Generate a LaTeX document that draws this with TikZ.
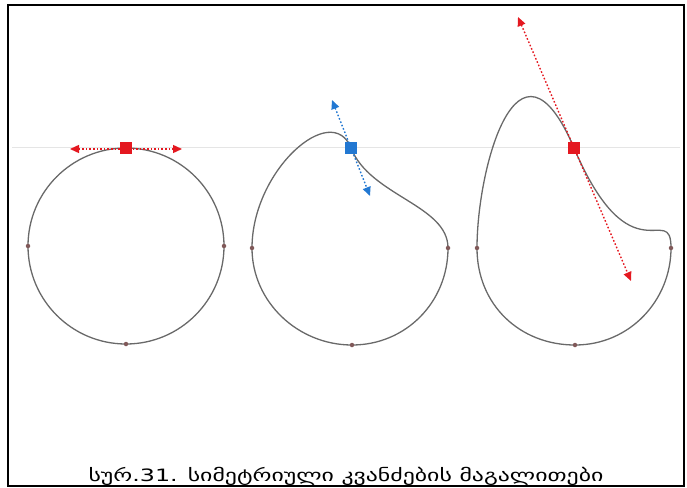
\documentclass[tikz,border=0pt]{standalone}
\usepackage{fontspec}
\newfontfamily\geofont{DejaVu Sans}
\usetikzlibrary{arrows.meta}
\definecolor{nodered}{RGB}{228,24,32}
\definecolor{nodeblue}{RGB}{34,120,210}
\definecolor{pathgray}{RGB}{105,105,105}

\begin{document}
\begin{tikzpicture}[x=1pt,y=-1pt,
	outline/.style={pathgray, line width=1.3pt},
	handle/.style={line width=1.4pt, dash pattern=on 1.6pt off 2pt,
		{Triangle[length=9pt,width=8pt]}-{Triangle[length=9pt,width=8pt]}},
	selnode/.style={rectangle, inner sep=0pt, minimum size=12pt},
	knot/.style={circle, fill=pathgray!85!red, inner sep=0pt, minimum size=4.5pt}]
	\useasboundingbox (0,0) rectangle (687,487);

	% Draw frame and guide line
	\draw[line width=1.6pt] (8,5) rectangle (684,486);
	\draw[black!10, line width=0.6pt] (12,147) -- (680,147);

	% Draw circle
	\coordinate (s1) at (126,148);
	\coordinate (h1a) at (70,149);
	\coordinate (h1b) at (182,149);
	\draw[outline] (126,246) circle (98pt);
	\node[knot] (l1) at (28,246) {};
	\node[knot] (r1) at (224,246) {};
	\node[knot] (b1) at (126,344) {};
	\draw[handle, nodered] (h1a) -- (h1b);
	\node[selnode, fill=nodered] (n1) at (s1) {};

	% Draw symmetric node, small handles
	\coordinate (s2) at (351,148);
	\coordinate (h2a) at (332,100);
	\coordinate (h2b) at (370,196);
	\coordinate (l2) at (252,248);
	\coordinate (b2) at (352,345);
	\coordinate (r2) at (448,248);
	\draw[outline] (s2) .. controls (h2a) and (252,170) .. (l2)
		.. controls (252,302) and (298,345) .. (b2)
		.. controls (406,345) and (448,302) .. (r2)
		.. controls (448,205) and (h2b) .. (s2);
	\node[knot] (k2l) at (l2) {};
	\node[knot] (k2r) at (r2) {};
	\node[knot] (k2b) at (b2) {};
	\draw[handle, nodeblue] (h2a) -- (h2b);
	\node[selnode, fill=nodeblue] (n2) at (s2) {};

	% Draw symmetric node, long handles
	\coordinate (s3) at (574,148);
	\coordinate (h3a) at (518,17);
	\coordinate (h3b) at (631,281);
	\coordinate (l3) at (477,248);
	\coordinate (b3) at (575,345);
	\coordinate (r3) at (671,248);
	\draw[outline] (s3) .. controls (h3a) and (477,168) .. (l3)
		.. controls (477,305) and (520,345) .. (b3)
		.. controls (630,345) and (671,300) .. (r3)
		.. controls (671,200) and (h3b) .. (s3);
	\node[knot] (k3l) at (l3) {};
	\node[knot] (k3r) at (r3) {};
	\node[knot] (k3b) at (b3) {};
	\draw[handle, nodered] (h3a) -- (h3b);
	\node[selnode, fill=nodered] (n3) at (s3) {};

	% Caption
	\node[font=\geofont\fontsize{17}{20}\selectfont, xscale=1.4] (caption) at (346,476)
		{სურ.31. სიმეტრიული კვანძების მაგალითები};
\end{tikzpicture}
\end{document}
